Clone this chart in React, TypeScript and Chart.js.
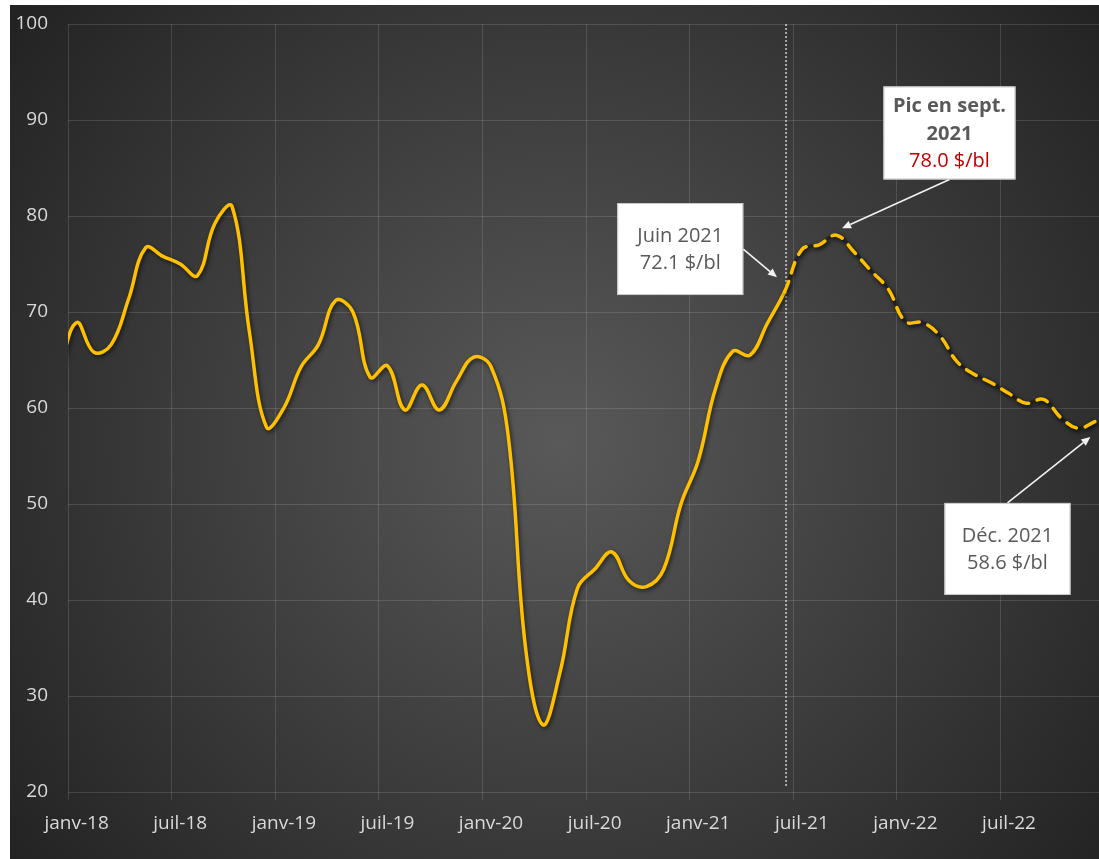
import React, { useEffect, useRef } from "react";
import { Chart, registerables } from "chart.js";

Chart.register(...registerables);

// ---- Data ----
const monthNames = ["janv", "févr", "mars", "avr", "mai", "juin", "juil", "août", "sept", "oct", "nov", "déc"];
const years = ["18", "19", "20", "21", "22"];
// Dec 2017 followed by Jan 2018 .. Dec 2022
const monthLabels: string[] = ["déc-17"].concat(
  ...years.map((yy) => monthNames.map((m) => `${m}-${yy}`))
);

const brentPrice = [
  64.0,
  68.9, 65.8, 66.6, 71.3, 76.7, 75.8, 75.0, 73.8, 79.2, 81.0, 68.0, 58.0,
  60.0, 64.3, 66.6, 71.2, 70.0, 63.2, 64.4, 59.8, 62.4, 59.8, 62.8, 65.3,
  64.3, 57.0, 35.0, 27.0, 32.5, 41.2, 43.2, 45.0, 42.0, 41.4, 43.2, 50.0,
  54.5, 62.0, 65.9, 65.5, 68.8, 72.1, 76.5, 77.0, 78.0, 76.3, 74.3, 72.4,
  69.0, 68.9, 67.5, 64.8, 63.5, 62.6, 61.5, 60.5, 60.9, 59.0, 57.9, 58.6,
];
const firstMonth = -1; // month index of first value (Jan 2018 = 0)
const forecastFromLabel = "juin-21";

const axisTickLabels = ["janv-18", "juil-18", "janv-19", "juil-19", "janv-20", "juil-20", "janv-21", "juil-21", "janv-22", "juil-22"];
const axisTickMonths = [0, 6, 12, 18, 24, 30, 36, 42, 48, 54];
const xMin = -0.5;
const xMax = 59.5;
const yMin = 20;
const yMax = 100;
const yStep = 10;

const calloutLines = [
  ["Juin 2021", "72.1 $/bl"],
  ["Pic en sept.", "2021", "78.0 $/bl"],
  ["Déc. 2021", "58.6 $/bl"],
];
const calloutBoldLines = [[false, false], [true, true, false], [false, false]];
const calloutRedLines = [[false, false], [false, false, true], [false, false]];
// box centre (month, value), box size px, arrow anchor, arrow tip (month, value)
const calloutBoxMonth = [34.96, 50.55, 53.91];
const calloutBoxValue = [76.56, 88.65, 45.32];
const calloutBoxSize = [[126, 92], [132, 93], [126, 92]];
const calloutAnchor = ["right", "bottom", "top"];
const calloutTipMonth = [40.56, 44.33, 58.71];
const calloutTipValue = [73.61, 78.72, 56.98];

// ---- Styles ----
const FONT = "'Open Sans', 'Noto Sans', sans-serif";
const GOLD = "#FFC000";
const GRID = "rgba(255,255,255,0.13)";
const LABEL = "#d9d9d9";

export default function App() {
  const ref = useRef<HTMLCanvasElement>(null);

  useEffect(() => {
    const canvas = ref.current;
    if (!canvas) return;
    const splitIdx = monthLabels.indexOf(forecastFromLabel);
    const splitMonth = splitIdx + firstMonth;
    const points = brentPrice.map((v, i) => ({ x: i + firstMonth, y: v }));

    const bgPlugin = {
      id: "bg",
      beforeDraw(chart: any) {
        const { ctx, width, height } = chart;
        const cx = width * 0.503;
        const cy = height * 0.51;
        const r = Math.hypot(cx, cy);
        const g = ctx.createRadialGradient(cx, cy, 0, cx, cy, r);
        g.addColorStop(0, "#595959");
        g.addColorStop(1, "#222222");
        ctx.save();
        ctx.fillStyle = g;
        ctx.fillRect(0, 0, width, height);
        ctx.restore();
      },
    };

    const fxPlugin = {
      id: "fx",
      beforeDatasetsDraw(chart: any) {
        const { ctx, chartArea, scales } = chart;
        const px = scales.x.getPixelForValue(splitMonth) + 1.5;
        ctx.save();
        ctx.strokeStyle = "rgba(200,200,200,0.8)";
        ctx.lineWidth = 2;
        ctx.setLineDash([2, 2]);
        ctx.beginPath();
        ctx.moveTo(px, chartArea.top);
        ctx.lineTo(px, chartArea.bottom - 6);
        ctx.stroke();
        ctx.restore();
        ctx.save();
        ctx.shadowColor = "rgba(0,0,0,0.6)";
        ctx.shadowBlur = 4;
        ctx.shadowOffsetX = 1.5;
        ctx.shadowOffsetY = 2;
      },
      afterDatasetsDraw(chart: any) {
        chart.ctx.restore();
      },
      afterDraw(chart: any) {
        const { ctx, scales } = chart;
        const xs = scales.x;
        const ys = scales.y;
        for (let k = 0; k < calloutLines.length; k++) {
          const cx = xs.getPixelForValue(calloutBoxMonth[k]);
          const cy = ys.getPixelForValue(calloutBoxValue[k]);
          const [w, h] = calloutBoxSize[k];
          const left = cx - w / 2;
          const top = cy - h / 2;
          let sx = cx;
          let sy = cy;
          if (calloutAnchor[k] === "right") { sx = left + w; sy = cy; }
          else if (calloutAnchor[k] === "bottom") { sx = cx; sy = top + h; }
          else { sx = cx; sy = top; }
          const tx = xs.getPixelForValue(calloutTipMonth[k]);
          const ty = ys.getPixelForValue(calloutTipValue[k]);
          const ang = Math.atan2(ty - sy, tx - sx);
          const headL = 9;
          const headW = 4;
          const bx = tx - headL * Math.cos(ang);
          const by = ty - headL * Math.sin(ang);
          ctx.save();
          ctx.strokeStyle = "#f2f2f2";
          ctx.fillStyle = "#f2f2f2";
          ctx.lineWidth = 1.6;
          ctx.beginPath();
          ctx.moveTo(sx, sy);
          ctx.lineTo(bx, by);
          ctx.stroke();
          ctx.beginPath();
          ctx.moveTo(tx, ty);
          ctx.lineTo(bx + headW * Math.sin(ang), by - headW * Math.cos(ang));
          ctx.lineTo(bx - headW * Math.sin(ang), by + headW * Math.cos(ang));
          ctx.closePath();
          ctx.fill();
          // box
          ctx.fillStyle = "#ffffff";
          ctx.fillRect(left, top, w, h);
          ctx.strokeStyle = "#c8c8c8";
          ctx.lineWidth = 1;
          ctx.strokeRect(left + 0.5, top + 0.5, w - 1, h - 1);
          // text
          const lines = calloutLines[k];
          const lh = 27.5;
          ctx.textAlign = "center";
          ctx.textBaseline = "middle";
          for (let j = 0; j < lines.length; j++) {
            const bold = calloutBoldLines[k][j];
            const red = calloutRedLines[k][j];
            ctx.font = `${bold ? "bold " : ""}20px ${FONT}`;
            ctx.fillStyle = red ? "#C00000" : "#595959";
            const yy = cy + (j - (lines.length - 1) / 2) * lh + 1;
            ctx.fillText(lines[j], cx, yy);
          }
          ctx.restore();
        }
      },
    };

    const chart = new Chart(canvas, {
      type: "line",
      data: {
        datasets: [
          {
            data: points,
            borderColor: GOLD,
            borderWidth: 3.5,
            borderCapStyle: "round",
            borderJoinStyle: "round",
            pointRadius: 0,
            tension: 0.4,
            fill: false,
            clip: 0,
            segment: {
              borderDash: (c: any) => (c.p0DataIndex >= splitIdx ? [11, 9] : []),
            },
          },
          {
            data: points,
            borderColor: "rgba(28,28,28,0.6)",
            borderWidth: 3.5,
            pointRadius: 0,
            tension: 0.4,
            fill: false,
            clip: 0,
            segment: {
              borderColor: (c: any) => (c.p0DataIndex >= splitIdx ? "rgba(28,28,28,0.6)" : "rgba(0,0,0,0)"),
            },
          },
        ],
      },
      options: {
        animation: false,
        responsive: false,
        devicePixelRatio: 1,
        layout: { padding: { top: 19, left: 0, right: 0, bottom: 0 } },
        plugins: { legend: { display: false }, tooltip: { enabled: false } },
        events: [],
        scales: {
          x: {
            type: "linear",
            min: xMin,
            max: xMax,
            afterBuildTicks: (s: any) => {
              s.ticks = axisTickMonths.map((m) => ({ value: m - 0.5 }));
            },
            afterFit: (s: any) => {
              s.height = 67;
              s.paddingLeft = 0;
              s.paddingRight = 0;
            },
            ticks: {
              autoSkip: false,
              maxRotation: 0,
              color: LABEL,
              font: { family: FONT, size: 19 },
              padding: 12,
              labelOffset: 8.63,
              callback: (_v: any, i: number) => axisTickLabels[i],
            },
            grid: { color: GRID, tickColor: GRID, tickLength: 8 },
            border: { display: false },
          },
          y: {
            min: yMin,
            max: yMax,
            afterFit: (s: any) => {
              s.width = 58;
              s.paddingTop = 0;
              s.paddingBottom = 0;
            },
            ticks: {
              stepSize: yStep,
              color: LABEL,
              font: { family: FONT, size: 19 },
              padding: 20,
            },
            grid: { color: GRID, drawTicks: false },
            border: { display: false },
          },
        },
      },
      plugins: [bgPlugin, fxPlugin],
    } as any);

    return () => chart.destroy();
  }, []);

  return (
    <div style={{ position: "absolute", left: 10, top: 5, width: 1089, height: 854, overflow: "hidden" }}>
      <canvas ref={ref} width={1094} height={854} style={{ display: "block" }} />
    </div>
  );
}
